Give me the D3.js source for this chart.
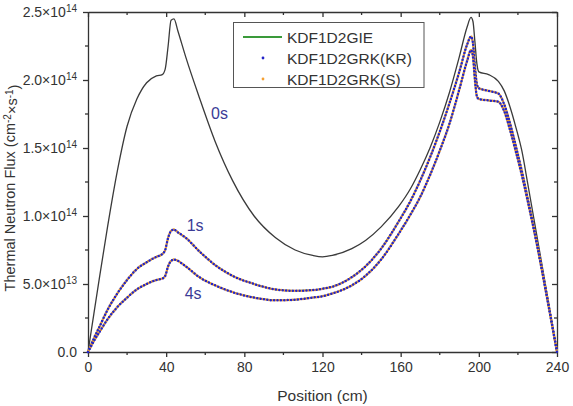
<!DOCTYPE html>
<html>
<head>
<meta charset="utf-8">
<script src="https://cdn.jsdelivr.net/npm/d3@7"></script>
<style>
  body { margin: 0; background: #fff; }
  svg text { font-family: "Liberation Sans", Arial, sans-serif; fill: #333; }
  .axis path, .axis line { stroke: #333; stroke-width: 1.3; }
</style>
</head>
<body>
<div id="chart"></div>
<script>
// positions (cm) and flux values (x1e14 cm^-2 s^-1)
const positions = [0, 3, 6, 10, 15, 20, 25, 30, 35, 38, 39.5, 41, 42.5, 44, 46, 50, 57, 65, 74, 85, 96, 106, 115, 120, 125, 135, 142, 150, 159, 165, 170, 175, 180, 185, 190, 194, 196, 197, 198, 199, 200, 205, 210, 213, 216, 219, 222, 225, 230, 235, 240];
const flux0s = [0, 0.28, 0.56, 0.92, 1.33, 1.66, 1.86, 1.98, 2.03, 2.04, 2.08, 2.25, 2.44, 2.45, 2.36, 2.17, 1.87, 1.55, 1.26, 1.0, 0.84, 0.75, 0.71, 0.70, 0.71, 0.76, 0.82, 0.92, 1.07, 1.20, 1.34, 1.50, 1.69, 1.91, 2.17, 2.39, 2.46, 2.43, 2.28, 2.12, 2.06, 2.04, 1.99, 1.92, 1.80, 1.65, 1.48, 1.24, 0.83, 0.42, 0];
const flux1s = [0, 0.10, 0.19, 0.31, 0.43, 0.53, 0.61, 0.66, 0.70, 0.72, 0.75, 0.84, 0.89, 0.90, 0.88, 0.84, 0.74, 0.64, 0.56, 0.50, 0.46, 0.45, 0.455, 0.465, 0.48, 0.55, 0.63, 0.76, 0.96, 1.11, 1.26, 1.43, 1.62, 1.83, 2.06, 2.26, 2.32, 2.27, 2.10, 1.97, 1.94, 1.92, 1.90, 1.82, 1.68, 1.51, 1.33, 1.13, 0.78, 0.40, 0];
const flux4s = [0, 0.08, 0.15, 0.24, 0.33, 0.40, 0.46, 0.50, 0.53, 0.54, 0.56, 0.63, 0.67, 0.68, 0.67, 0.63, 0.55, 0.49, 0.44, 0.40, 0.38, 0.385, 0.40, 0.41, 0.43, 0.49, 0.56, 0.68, 0.87, 1.01, 1.14, 1.30, 1.48, 1.68, 1.93, 2.14, 2.22, 2.17, 2.00, 1.88, 1.86, 1.85, 1.84, 1.77, 1.63, 1.47, 1.30, 1.11, 0.77, 0.39, 0];
const xTicks = [0, 40, 80, 120, 160, 200, 240];
const yTicks = [0, 0.5, 1.0, 1.5, 2.0, 2.5];
const yTickLabels = [["0.0", ""], ["5.0\u00d710", "13"], ["1.0\u00d710", "14"], ["1.5\u00d710", "14"], ["2.0\u00d710", "14"], ["2.5\u00d710", "14"]];
const legendNames = ["KDF1D2GIE", "KDF1D2GRK(KR)", "KDF1D2GRK(S)"];
// label text, position (cm), flux (x1e14) of the baseline-left anchor
const timeLabels = [["0s", 63, 1.71], ["1s", 50.5, 0.89], ["4s", 49.5, 0.39]];

const W = 573, H = 406;
const margin = { top: 12, right: 16, bottom: 54, left: 88 };
const width = W - margin.left - margin.right;
const height = H - margin.top - margin.bottom;

const svg = d3.select("#chart").append("svg").attr("width", W).attr("height", H);
const g = svg.append("g").attr("transform", "translate(" + margin.left + "," + margin.top + ")");

const x = d3.scaleLinear().domain([0, 240]).range([0, width]);
const y = d3.scaleLinear().domain([0, 2.5]).range([height, 0]);

// minor ticks
const xMinor = d3.range(20, 240, 40);
const yMinor = d3.range(0.25, 2.5, 0.5);

// bottom axis
const xAxis = g.append("g").attr("class", "axis").attr("transform", "translate(0," + height + ")")
  .call(d3.axisBottom(x).tickValues(xTicks).tickSize(5).tickSizeOuter(0).tickPadding(5));
xAxis.selectAll("text").style("font-size", "14px").style("fill", "#333");
xAxis.selectAll(".minor").data(xMinor).enter().append("line")
  .attr("x1", d => x(d)).attr("x2", d => x(d)).attr("y1", 0).attr("y2", 3);

// left axis
const yAxis = g.append("g").attr("class", "axis")
  .call(d3.axisLeft(y).tickValues(yTicks).tickSize(5).tickSizeOuter(0).tickPadding(6).tickFormat(""));
yAxis.selectAll(".tick text").each(function (d, i) {
  const t = d3.select(this).style("font-size", "14px").style("fill", "#333");
  t.text(yTickLabels[i][0]);
  if (yTickLabels[i][1]) {
    t.append("tspan").attr("dy", "-0.45em").style("font-size", "10px").text(yTickLabels[i][1]);
  }
});
yAxis.selectAll(".minor").data(yMinor).enter().append("line")
  .attr("x1", -3).attr("x2", 0).attr("y1", d => y(d)).attr("y2", d => y(d));

// top + right mirror axes, ticks inward
const topAxis = g.append("g").attr("class", "axis")
  .call(d3.axisBottom(x).tickValues(xTicks).tickSize(5).tickSizeOuter(0).tickFormat(""));
topAxis.selectAll(".minor").data(xMinor).enter().append("line")
  .attr("x1", d => x(d)).attr("x2", d => x(d)).attr("y1", 0).attr("y2", 3);
const rightAxis = g.append("g").attr("class", "axis").attr("transform", "translate(" + width + ",0)")
  .call(d3.axisLeft(y).tickValues(yTicks).tickSize(5).tickSizeOuter(0).tickFormat(""));
rightAxis.selectAll(".minor").data(yMinor).enter().append("line")
  .attr("x1", -3).attr("x2", 0).attr("y1", d => y(d)).attr("y2", d => y(d));

// axis titles
svg.append("text")
  .attr("x", margin.left + width / 2).attr("y", 401)
  .attr("text-anchor", "middle").style("font-size", "15.5px")
  .text("Position (cm)");
const yt = svg.append("text")
  .attr("transform", "translate(15," + (margin.top + height / 2 + 6) + ") rotate(-90)")
  .attr("text-anchor", "middle").style("font-size", "14.5px");
yt.append("tspan").text("Thermal Neutron Flux (cm");
yt.append("tspan").attr("dy", "-0.45em").style("font-size", "10px").text("-2");
yt.append("tspan").attr("dy", "0.45em").text("\u00d7s");
yt.append("tspan").attr("dy", "-0.45em").style("font-size", "10px").text("-1");
yt.append("tspan").attr("dy", "0.45em").text(")");

// curves
const line = d3.line()
  .x(d => x(d[0]))
  .y(d => y(d[1]))
  .curve(d3.curveMonotoneX);
const zip = vals => positions.map((p, i) => [p, vals[i]]);

g.append("path").datum(zip(flux0s))
  .attr("fill", "none").attr("stroke", "#3a3a3a").attr("stroke-width", 1.3)
  .attr("d", line);

[flux1s, flux4s].forEach(vals => {
  const data = zip(vals);
  // GIE solid line
  g.append("path").datum(data)
    .attr("fill", "none").attr("stroke", "#3a9a3a").attr("stroke-width", 1.5)
    .attr("d", line);
  // GRK(S) dots
  g.append("path").datum(data)
    .attr("fill", "none").attr("stroke", "#f5a033").attr("stroke-width", 2.5)
    .attr("stroke-linecap", "round").attr("stroke-dasharray", "0 3.4").attr("stroke-dashoffset", -1.7)
    .attr("d", line);
  // GRK(KR) dots
  g.append("path").datum(data)
    .attr("fill", "none").attr("stroke", "#2424c8").attr("stroke-width", 2.5)
    .attr("stroke-linecap", "round").attr("stroke-dasharray", "0 3.4")
    .attr("d", line);
});

// time labels
timeLabels.forEach(t => {
  g.append("text")
    .attr("x", x(t[1])).attr("y", y(t[2]))
    .style("font-size", "16px").style("fill", "#3b3b96")
    .text(t[0]);
});

// legend
const lg = svg.append("g");
lg.append("rect").attr("x", 233.5).attr("y", 22.5).attr("width", 190.5).attr("height", 65)
  .attr("fill", "#fff").attr("stroke", "#555").attr("stroke-width", 1);
const rowY = [37, 58, 79];
lg.append("line").attr("x1", 243).attr("x2", 282).attr("y1", rowY[0]).attr("y2", rowY[0])
  .attr("stroke", "#3a9a3a").attr("stroke-width", 2);
lg.append("circle").attr("cx", 263).attr("cy", rowY[1]).attr("r", 1.4).attr("fill", "#2424c8");
lg.append("circle").attr("cx", 263).attr("cy", rowY[2]).attr("r", 1.4).attr("fill", "#f5a033");
legendNames.forEach((n, i) => {
  lg.append("text").attr("x", 287).attr("y", rowY[i] + 5.5)
    .style("font-size", "15.5px").text(n);
});
</script>
</body>
</html>
